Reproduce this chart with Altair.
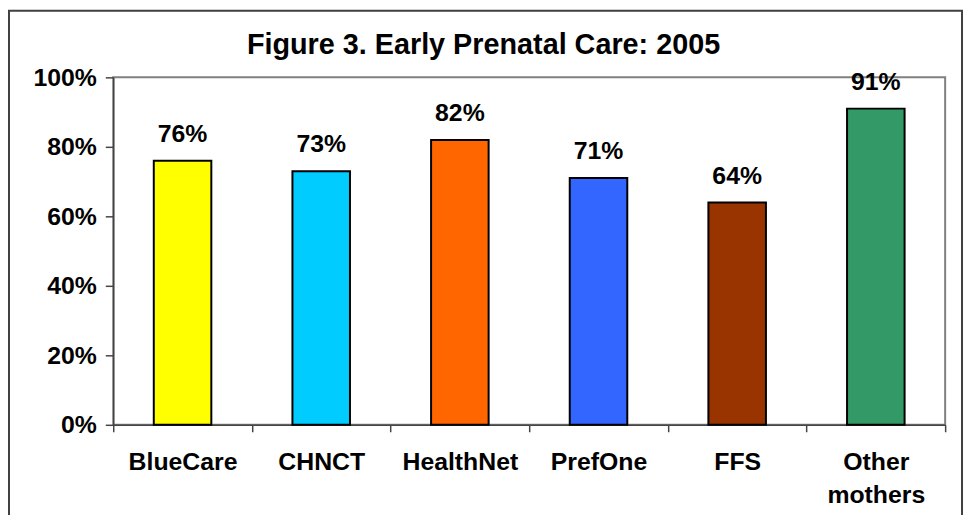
import altair as alt
import pandas as pd

categories = ["BlueCare", "CHNCT", "HealthNet", "PrefOne", "FFS", "Other mothers"]
values = [0.76, 0.73, 0.82, 0.71, 0.64, 0.91]
colors = ["#FFFF00", "#00CCFF", "#FF6600", "#3366FF", "#993300", "#339966"]
y_ticks = [0, 0.2, 0.4, 0.6, 0.8, 1.0]
title_text = "Figure 3. Early Prenatal Care: 2005"

df = pd.DataFrame({"cat": categories, "val": values})
FONT = "Liberation Sans"

x_enc = alt.X(
    "cat:N",
    sort=categories,
    title=None,
    scale=alt.Scale(paddingInner=0, paddingOuter=0),
    axis=alt.Axis(
        labelAngle=0,
        tickBand="extent",
        tickSize=7,
        labelPadding=18,
        labelFont=FONT,
        labelFontSize=25,
        labelFontWeight="bold",
        labelColor="black",
        labelLineHeight=33,
        labelExpr="split(datum.label, ' ')",
        domainColor="#444444",
        tickColor="#444444",
        domainWidth=1.5,
        tickWidth=1.5,
    ),
)
y_enc = alt.Y(
    "val:Q",
    title=None,
    scale=alt.Scale(domain=[0, 1]),
    axis=alt.Axis(
        values=y_ticks,
        format=".0%",
        grid=False,
        tickSize=8,
        labelPadding=9,
        labelFont=FONT,
        labelFontSize=25,
        labelFontWeight="bold",
        labelColor="black",
        domainColor="#444444",
        tickColor="#444444",
        domainWidth=1.5,
        tickWidth=1.5,
    ),
)

bars = alt.Chart(df).mark_bar(
    stroke="black", strokeWidth=2, width=alt.RelativeBandSize(0.415)
).encode(
    x=x_enc,
    y=y_enc,
    color=alt.Color("cat:N", sort=categories,
                    scale=alt.Scale(domain=categories, range=colors), legend=None),
)

labels = alt.Chart(df).mark_text(
    font=FONT, fontSize=25, fontWeight="bold", color="black",
    baseline="alphabetic", dy=-19,
).encode(
    x=alt.X("cat:N", sort=categories),
    y="val:Q",
    text=alt.Text("val:Q", format=".0%"),
)

title = alt.Chart(pd.DataFrame({"t": [title_text]})).mark_text(
    font=FONT, fontSize=29, fontWeight="bold", color="black",
    baseline="alphabetic", align="center",
).encode(
    x=alt.value(373), y=alt.value(-24), text="t:N"
)

frame = alt.Chart(pd.DataFrame({"a": [0]})).mark_rect(
    fillOpacity=0, stroke="#404040", strokeWidth=2
).encode(
    x=alt.value(-105), x2=alt.value(855), y=alt.value(-67), y2=alt.value(520)
)

chart = alt.layer(bars, labels, title, frame).properties(
    width=838,
    height=350,
    padding={"left": 106, "top": 68, "right": 20, "bottom": 89},
    autosize=alt.AutoSizeParams(type="none"),
).configure_view(stroke="#808080", strokeWidth=2)

chart.save("out.html", embed_options={"renderer": "svg", "actions": False})
